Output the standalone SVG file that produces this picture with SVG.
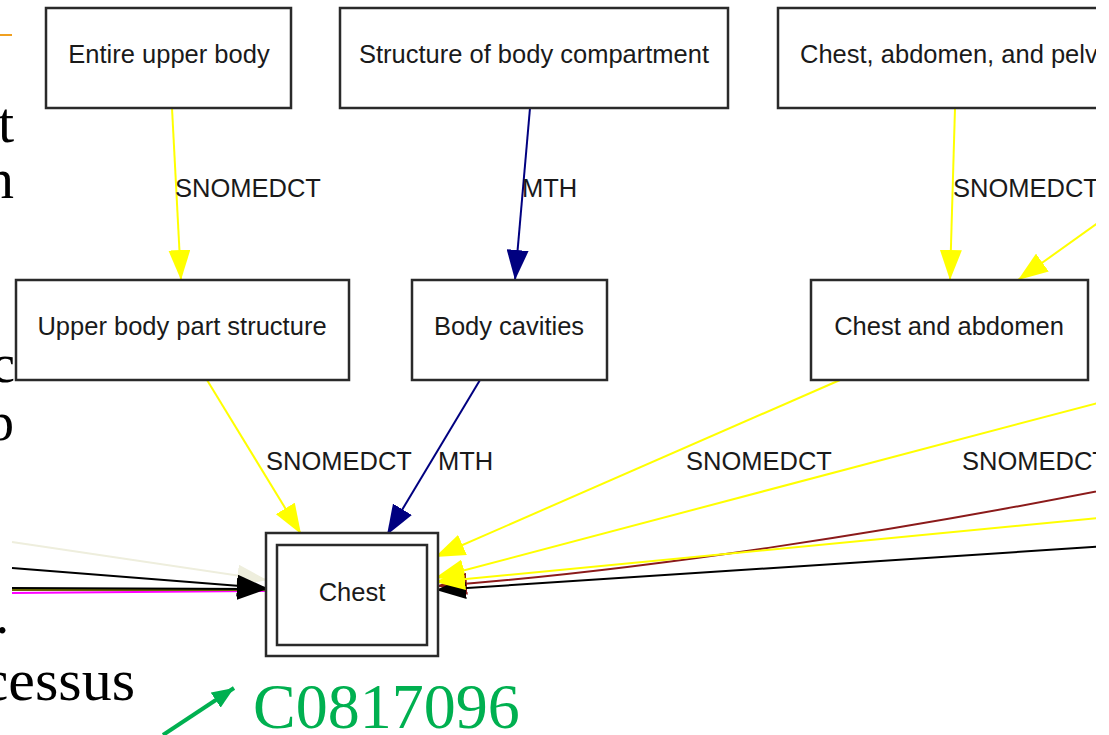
<svg xmlns="http://www.w3.org/2000/svg" width="1109" height="735" viewBox="0 0 1109 735">
  <style>
    .node rect { fill: #ffffff; stroke: #2a2a2a; stroke-width: 2.5; }
    .node text, .elabel { font-family: "Liberation Sans", Arial, sans-serif; font-size: 25.5px; fill: #1a1a1a; }
    .node text { text-anchor: middle; }
    .e { fill: none; stroke-width: 2; }
    .slide { font-family: "Liberation Serif", "Times New Roman", serif; fill: #000000; }
  </style>
  <defs>
    <marker id="ah-yellow" viewBox="0 0 30 22" refX="30" refY="11" markerWidth="30" markerHeight="22" markerUnits="userSpaceOnUse" orient="auto">
      <path d="M0,0 L30,11 L0,22 z" fill="#ffff00"/>
    </marker>
    <marker id="ah-navy" viewBox="0 0 30 22" refX="30" refY="11" markerWidth="30" markerHeight="22" markerUnits="userSpaceOnUse" orient="auto">
      <path d="M0,0 L30,11 L0,22 z" fill="#000080"/>
    </marker>
    <marker id="ah-black" viewBox="0 0 30 22" refX="30" refY="11" markerWidth="30" markerHeight="22" markerUnits="userSpaceOnUse" orient="auto">
      <path d="M0,0 L30,11 L0,22 z" fill="#000000"/>
    </marker>
    <marker id="ah-beige" viewBox="0 0 30 22" refX="30" refY="11" markerWidth="30" markerHeight="22" markerUnits="userSpaceOnUse" orient="auto">
      <path d="M0,0 L30,11 L0,22 z" fill="#eeeedd"/>
    </marker>
    <marker id="ah-red" viewBox="0 0 30 22" refX="30" refY="11" markerWidth="30" markerHeight="22" markerUnits="userSpaceOnUse" orient="auto">
      <path d="M0,0 L30,11 L0,22 z" fill="#8b1a1a"/>
    </marker>
    <marker id="ah-green" viewBox="0 0 22 18" refX="22" refY="9" markerWidth="22" markerHeight="18" markerUnits="userSpaceOnUse" orient="auto">
      <path d="M0,0 L22,9 L0,18 z" fill="#00b050"/>
    </marker>
    <!-- the graph image ends a little before the right edge -->
    <clipPath id="graph-clip">
      <rect x="0" y="0" width="1096" height="735"/>
    </clipPath>
  </defs>

  <rect width="1109" height="735" fill="#ffffff"/>

  <!-- slide text around the graph -->
  <g id="slide-text">
    <line x1="0" y1="35" x2="12" y2="35" stroke="#f0a020" stroke-width="2"/>
    <text class="slide" x="14" y="142" font-size="58" text-anchor="end">t</text>
    <text class="slide" x="14" y="198" font-size="58" text-anchor="end">n</text>
    <text class="slide" x="15" y="382" font-size="54" text-anchor="end">c</text>
    <text class="slide" x="14" y="440" font-size="54" text-anchor="end">p</text>
    <text class="slide" x="9" y="633" font-size="54" text-anchor="end">.</text>
    <text class="slide" x="135" y="700" font-size="60" text-anchor="end">cessus</text>
  </g>

  <g clip-path="url(#graph-clip)">
    <!-- connectors -->
    <g id="edges">
      <path class="e" d="M172,108 L181,280" stroke="#ffff00" marker-end="url(#ah-yellow)"/>
      <path class="e" d="M530,108 L515,280" stroke="#000080" marker-end="url(#ah-navy)"/>
      <path class="e" d="M955,108 L950,280" stroke="#ffff00" marker-end="url(#ah-yellow)"/>
      <path class="e" d="M1109,215 L1018,280" stroke="#ffff00" marker-end="url(#ah-yellow)"/>
      <path class="e" d="M207,380 L301,534" stroke="#ffff00" marker-end="url(#ah-yellow)"/>
      <path class="e" d="M480,380 L387,535" stroke="#000080" marker-end="url(#ah-navy)"/>
      <path class="e" d="M840,380 L435,557" stroke="#ffff00" marker-end="url(#ah-yellow)"/>
      <path class="e" d="M1109,400 L435,578" stroke="#ffff00" marker-end="url(#ah-yellow)"/>
      <path class="e" d="M1109,489 C900,530 650,570 437,586" stroke="#8b1a1a" marker-end="url(#ah-red)"/>
      <path class="e" d="M1109,546 L436,590" stroke="#000000" marker-end="url(#ah-black)"/>
      <path class="e" d="M1109,517 L435,582" stroke="#ffff00" marker-end="url(#ah-yellow)"/>
      <path class="e" d="M12,542 L267,580" stroke="#eeeedd" marker-end="url(#ah-beige)"/>
      <path class="e" d="M12,593 L267,591" stroke="#ff00ff"/>
      <path class="e" d="M12,590 L267,590" stroke="#6b6b00"/>
      <path class="e" d="M12,588 L267,589" stroke="#000000" marker-end="url(#ah-black)"/>
      <path class="e" d="M12,568 L267,588" stroke="#000000" marker-end="url(#ah-black)"/>
      <text class="elabel" x="175" y="197">SNOMEDCT</text>
      <text class="elabel" x="522" y="197">MTH</text>
      <text class="elabel" x="953" y="197">SNOMEDCT</text>
      <text class="elabel" x="266" y="470">SNOMEDCT</text>
      <text class="elabel" x="438" y="470">MTH</text>
      <text class="elabel" x="686" y="470">SNOMEDCT</text>
      <text class="elabel" x="962" y="470">SNOMEDCT</text>
    </g>

    <!-- nodes -->
    <g id="node-entire-upper-body" class="node">
      <rect x="46" y="8" width="245" height="100"/>
      <text x="169" y="63">Entire upper body</text>
    </g>
    <g id="node-structure-of-body-compartment" class="node">
      <rect x="340" y="8" width="388" height="100"/>
      <text x="534" y="63">Structure of body compartment</text>
    </g>
    <g id="node-chest-abdomen-pelvis" class="node">
      <rect x="778" y="8" width="380" height="100"/>
      <text x="800" y="63" style="text-anchor:start">Chest, abdomen, and pelvis</text>
    </g>
    <g id="node-upper-body-part-structure" class="node">
      <rect x="16" y="280" width="333" height="100"/>
      <text x="182" y="335">Upper body part structure</text>
    </g>
    <g id="node-body-cavities" class="node">
      <rect x="412" y="280" width="195" height="100"/>
      <text x="509" y="335">Body cavities</text>
    </g>
    <g id="node-chest-and-abdomen" class="node">
      <rect x="811" y="280" width="277" height="100"/>
      <text x="949" y="335">Chest and abdomen</text>
    </g>
    <g id="node-chest" class="node">
      <rect x="266" y="533" width="172" height="123"/>
      <rect x="277" y="545" width="150" height="100"/>
      <text x="352" y="601">Chest</text>
    </g>
  </g>

  <!-- concept identifier callout -->
  <g id="callout">
    <path d="M163,735 L234,688" stroke="#00b050" stroke-width="4" fill="none" marker-end="url(#ah-green)"/>
    <text x="253" y="728" font-family="'Liberation Serif', 'Times New Roman', serif" font-size="64" fill="#00b050">C0817096</text>
  </g>
</svg>
